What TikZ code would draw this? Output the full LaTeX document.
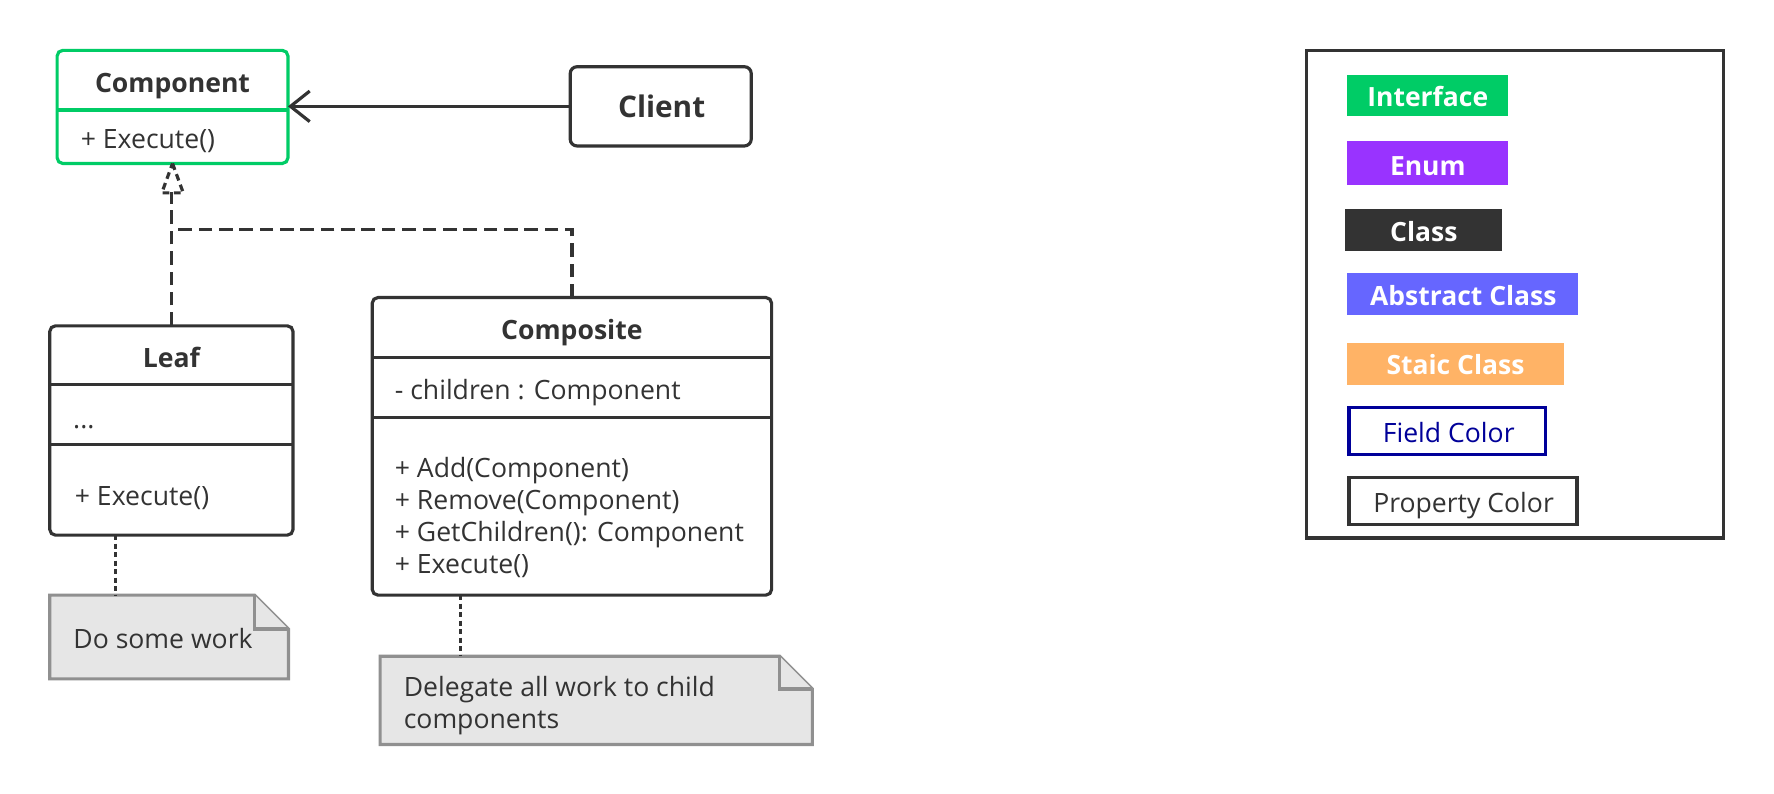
\documentclass[tikz,border=0pt]{standalone}
\usepackage{fontspec}
\setmainfont{Open Sans}
\usetikzlibrary{arrows.meta}
\definecolor{ink}{HTML}{333333}
\definecolor{igreen}{HTML}{00CC66}
\definecolor{ipurple}{HTML}{9933FF}
\definecolor{iblue}{HTML}{6666FF}
\definecolor{iorange}{HTML}{FFB366}
\definecolor{inavy}{HTML}{000099}
\definecolor{notefill}{HTML}{E6E6E6}
\definecolor{notegray}{HTML}{909090}
\begin{document}
\begin{tikzpicture}[x=1pt,y=-1pt,line width=2.8pt,
  font=\fontsize{23.5}{28.3}\selectfont, text=ink,
  classbox/.style={draw=ink, fill=white, rounded corners=5pt, inner sep=0pt, outer sep=0pt, anchor=north west},
  title/.style={font=\fontsize{23.5}{28}\selectfont\bfseries, text=ink, inner sep=0pt, anchor=base},
  member/.style={inner sep=0pt, anchor=base west, text=ink, align=left},
  divider/.style={draw=ink},
  realize/.style={draw=ink, dash pattern=on 12pt off 6pt},
  noteline/.style={draw=ink, dash pattern=on 4.5pt off 3pt},
  notebox/.style={fill=notefill, draw=notegray, line join=miter},
  notearea/.style={inner sep=0pt, outer sep=0pt, anchor=north west},
  legrect/.style={inner sep=0pt, outer sep=0pt, anchor=north west},
  legtext/.style={inner sep=0pt, anchor=base, font=\fontsize{23.4}{28}\selectfont\bfseries, text=white},
  legplain/.style={inner sep=0pt, anchor=base, font=\fontsize{23.5}{28}\selectfont}
]
\useasboundingbox (0,0) rectangle (1568,701);
\fill[white] (0,0) rectangle (1568,701);

% Component (interface)
\node[classbox, draw=igreen, minimum width=204pt, minimum height=100pt] (comp) at (50.5,44.5) {};
\draw[igreen] (50.5,97.2) -- (254.5,97.2);
\node[title] (compT) at (152.5,81.9) {Component};
\node[member] (compM) at (70,131.1) {+ Execute()};

% Client
\node[classbox, rounded corners=6pt, minimum width=160pt, minimum height=70pt] (client) at (504,59) {};
\node[title, font=\fontsize{26.3}{30}\selectfont\bfseries] (clientT) at (584.8,103.7) {Client};
\draw[ink, -{Straight Barb[length=17pt,width=27pt,line join=miter]}] (client.west) -- (client.west -| comp.east);

% Leaf
\node[classbox, minimum width=215pt, minimum height=185pt] (leaf) at (44,288) {};
\draw[divider] (44,340) -- (259,340);
\draw[divider] (44,393) -- (259,393);
\node[title] (leafT) at (151.5,325) {Leaf};
\node[member] (leafF) at (63.3,378.6) {...};
\node[member] (leafM) at (64.8,447) {+ Execute()};

% Composite
\node[classbox, minimum width=353pt, minimum height=263pt] (compo) at (329,263) {};
\draw[divider] (329,316) -- (682,316);
\draw[divider] (329,369) -- (682,369);
\node[title] (compoT) at (505.5,300.5) {Composite};
\node[member] (compoF) at (347.6,353) {- children : Component};
\node[member] (compoM) at (347.6,506.9) {+ Add(Component)\\+ Remove(Component)\\+ GetChildren(): Component\\+ Execute()};

% Realization connectors
\coordinate (base) at (152,169.5);
\coordinate (join) at (152,203);
\draw[realize] (leaf.north) -- (leaf.north |- base);
\draw[realize] (compo.north) |- (join);
\draw[ink, dash pattern=on 6pt off 4pt, line join=miter] (comp.south) -- ++(9.5,26) -- ++(-19,0) -- cycle;

% Notes
\node[notearea, minimum width=211pt, minimum height=74pt] (note1) at (44,526) {};
\draw[notebox] (44,526) -- (225,526) -- (255,556) -- (255,600) -- (44,600) -- cycle;
\draw[notebox] (225,526) -- (225,556) -- (255,556);
\node[member] (note1T) at (63.5,573) {Do some work};

\node[notearea, minimum width=382pt, minimum height=78pt] (note2) at (336,580) {};
\draw[notebox] (336,580) -- (689,580) -- (718,609) -- (718,658) -- (336,658) -- cycle;
\draw[notebox] (689,580) -- (689,609) -- (718,609);
\node[member, font=\fontsize{23.5}{28.5}\selectfont] (note2T) at (355.5,644) {Delegate all work to child\\components};

\draw[noteline] ([xshift=-49.5pt]leaf.south) -- ([xshift=-49.5pt]leaf.south |- note1.north);
\draw[noteline] ([xshift=-98.5pt]compo.south) -- ([xshift=-98.5pt]compo.south |- note2.north);

% Legend
\node[draw=ink, inner sep=0pt, outer sep=0pt, anchor=north west, minimum width=368pt, minimum height=430.5pt] (legend) at (1155,45) {};
\node[legrect, fill=igreen, minimum width=142pt, minimum height=36.5pt] (lgI) at (1191,66) {};
\node[legtext] (lgIT) at (1262,94.3) {Interface};
\node[legrect, fill=ipurple, minimum width=142pt, minimum height=39pt] (lgE) at (1191,124.6) {};
\node[legtext] (lgET) at (1262,154.7) {Enum};
\node[legrect, fill=ink, minimum width=139pt, minimum height=37pt] (lgC) at (1189,185) {};
\node[legtext] (lgCT) at (1258.5,213.6) {Class};
\node[legrect, fill=iblue, minimum width=204pt, minimum height=37pt] (lgA) at (1191,241.6) {};
\node[legtext] (lgAT) at (1293.4,270.2) {Abstract Class};
\node[legrect, fill=iorange, minimum width=191pt, minimum height=37pt] (lgS) at (1191,303.4) {};
\node[legtext] (lgST) at (1286.5,331.4) {Staic Class};
\node[legrect, draw=inavy, fill=white, minimum width=173.8pt, minimum height=41.6pt] (lgF) at (1192.4,360) {};
\node[legplain, text=inavy] (lgFT) at (1280.5,391.3) {Field Color};
\node[legrect, draw=ink, fill=white, minimum width=201.5pt, minimum height=42pt] (lgP) at (1192.4,421.8) {};
\node[legplain, text=ink] (lgPT) at (1293.6,453.1) {Property Color};
\end{tikzpicture}
\end{document}
